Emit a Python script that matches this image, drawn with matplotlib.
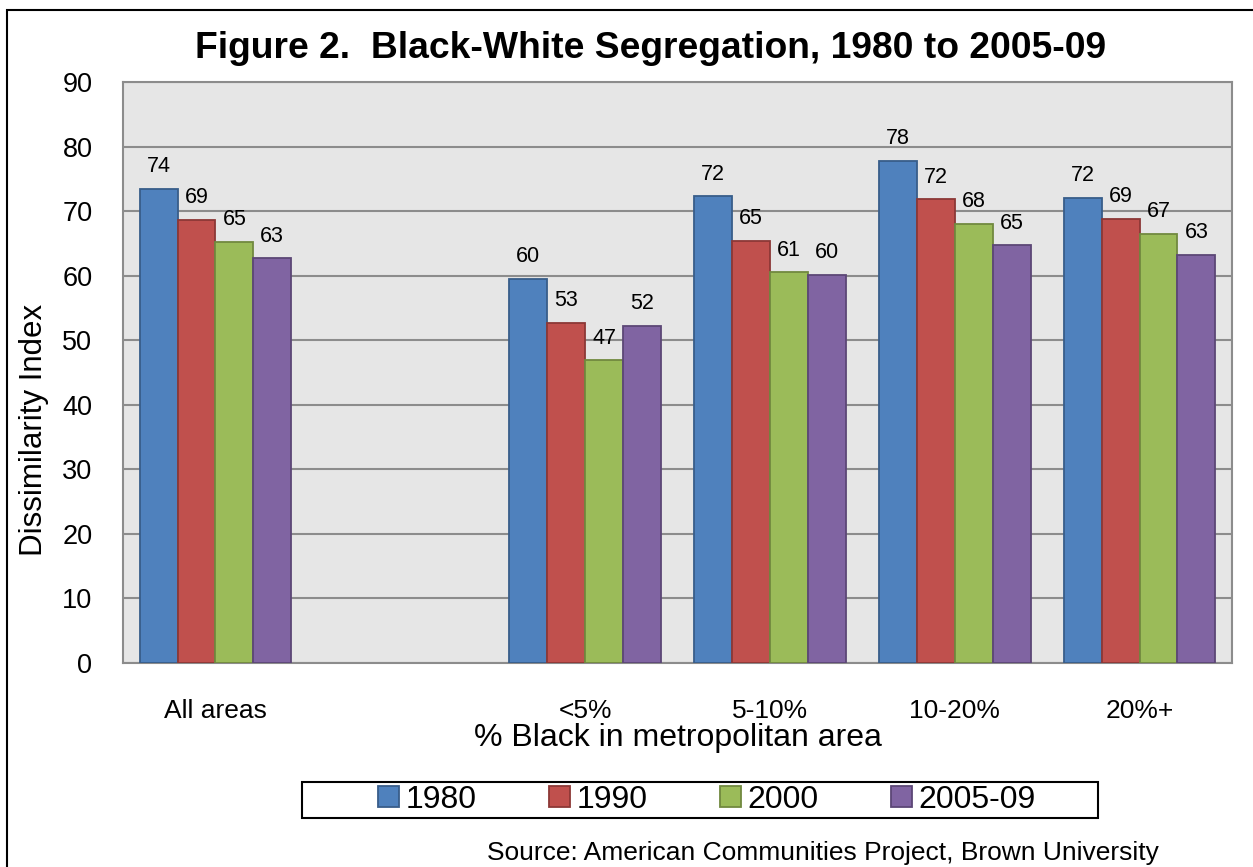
import matplotlib
matplotlib.use("Agg")
import matplotlib.pyplot as plt
import numpy as np
from matplotlib.patches import Rectangle

plt.rcParams['font.family'] = ['Liberation Sans', 'DejaVu Sans']

categories = ["All areas", "", "<5%", "5-10%", "10-20%", "20%+"]
series_names = ["1980", "1990", "2000", "2005-09"]
v1980 = [73.5, np.nan, 59.5, 72.3, 77.8, 72.1]
v1990 = [68.7, np.nan, 52.7, 65.4, 71.8, 68.8]
v2000 = [65.2, np.nan, 46.9, 60.5, 68.0, 66.5]
v2005 = [62.7, np.nan, 52.2, 60.1, 64.7, 63.2]
labels1980 = ["74", "", "60", "72", "78", "72"]
labels1990 = ["69", "", "53", "65", "72", "69"]
labels2000 = ["65", "", "47", "61", "68", "67"]
labels2005 = ["63", "", "52", "60", "65", "63"]

values = [v1980, v1990, v2000, v2005]
labels = [labels1980, labels1990, labels2000, labels2005]
colors = ["#4f81bd", "#c0504d", "#9bbb59", "#8064a2"]
edges = ["#385d8a", "#8c3836", "#71893f", "#5c4776"]

W, H = 1253, 867
fig = plt.figure(figsize=(W/100, H/100), dpi=100)
ax = fig.add_axes([123/W, 1-663/H, (1232-123)/W, (663-82)/H])
ax.set_facecolor("#e6e6e6")

x = np.arange(len(categories))
bw = 0.205
for i, (vals, labs) in enumerate(zip(values, labels)):
    pos = x + (i - 1.5) * bw
    ax.bar(pos, vals, width=bw, color=colors[i], edgecolor=edges[i], linewidth=1.3,
           label=series_names[i], zorder=3)
    for p, v, l in zip(pos, vals, labs):
        if l:
            ax.text(p, v + 1.8, l, ha="center", va="bottom", fontsize=15.5, zorder=4)

ax.set_xlim(-0.5, len(categories) - 0.5)
ax.set_ylim(0, 90)
ax.set_yticks(np.arange(0, 91, 10))
ax.yaxis.grid(True, color="#8c8c8c", linewidth=1.5, zorder=0)
ax.set_axisbelow(True)
ax.set_xticks(x)
ax.set_xticklabels(categories, fontsize=19)
ax.tick_params(axis="x", length=0, pad=26)
ax.tick_params(axis="y", length=0, pad=22, labelsize=19.5)
for s in ax.spines.values():
    s.set_color("#8c8c8c")
    s.set_linewidth(1.5)

fig.text(34/W, 1-430/H, "Dissimilarity Index", rotation=90, ha="center", va="center",
         fontsize=22.5)
ax.set_xlabel("% Black in metropolitan area", fontsize=23, labelpad=0)

fig.text(651/W, 1-48/H, "Figure 2.  Black-White Segregation, 1980 to 2005-09",
         ha="center", va="center", fontsize=26.8, fontweight="bold")

leg = fig.legend(loc="center", bbox_to_anchor=(707/W, 1-800/H), ncol=4,
                 fontsize=23, frameon=False,
                 handlelength=0.65, handleheight=0.65, handletextpad=0.2,
                 columnspacing=2.28, borderpad=0.1)
fig.patches.append(Rectangle((302/W, 1-818/H), (1098-302)/W, 36/H, transform=fig.transFigure,
                             fill=False, edgecolor="black", linewidth=1.5))

fig.text(487/W, 1-853/H, "Source: American Communities Project, Brown University",
         ha="left", va="center", fontsize=19)

fig.patches.append(Rectangle((7/W, -0.1), 1.2, 1-10/H+0.1, transform=fig.transFigure,
                             fill=False, edgecolor="black", linewidth=1.5))

fig.savefig("out.png", dpi=100)
